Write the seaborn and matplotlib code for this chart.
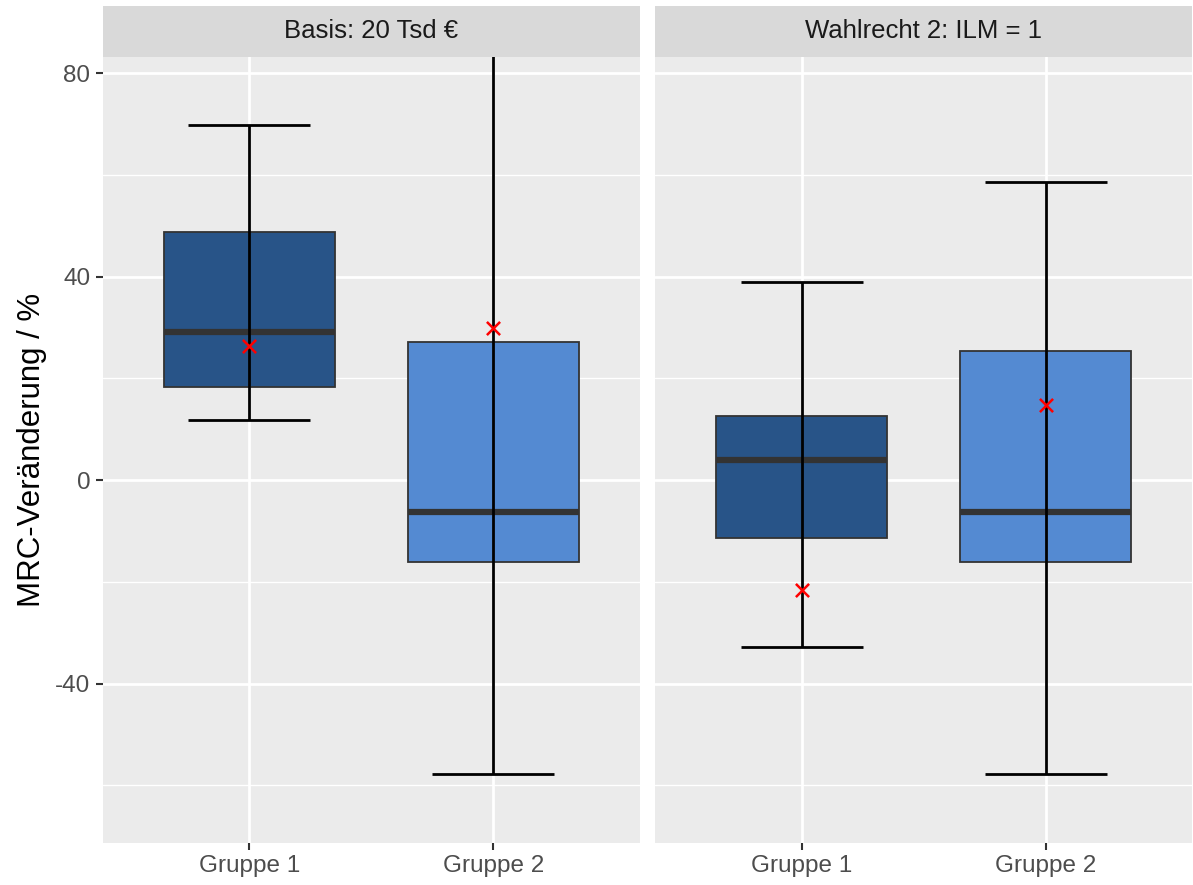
import numpy as np
import pandas as pd
import matplotlib
matplotlib.use("Agg")
import matplotlib.pyplot as plt
from matplotlib.patches import Rectangle
import seaborn as sns

# Panel labels and groups
panels = ["Basis: 20 Tsd €", "Wahlrecht 2: ILM = 1"]
groups = ["Gruppe 1", "Gruppe 2"]

# Five-number summaries per panel and group (min, q1, median, q3, max)
minimum = [[11.9, -57.7], [-32.8, -57.8]]
q1 = [[18.3, -16.1], [-11.3, -16.1]]
median = [[29.2, -6.2], [4.0, -6.2]]
q3 = [[48.7, 27.2], [12.6, 25.3]]
maximum = [[69.9, 92.0], [38.9, 58.7]]
means = [[26.3, 29.9], [-21.6, 14.8]]

y_ticks = [-40, 0, 40, 80]
y_minor = [-60, -20, 20, 60]
fills = ["#285488", "#548AD2"]

# Long table: five values per box reproduce its quartiles exactly
rows = []
for p, pname in enumerate(panels):
    for g, gname in enumerate(groups):
        for v in (minimum[p][g], q1[p][g], median[p][g], q3[p][g], maximum[p][g]):
            rows.append({"panel": pname, "group": gname, "value": v})
df = pd.DataFrame(rows)

mean_rows = [{"panel": pname, "group": gname, "mean": means[p][g]}
             for p, pname in enumerate(panels) for g, gname in enumerate(groups)]
mdf = pd.DataFrame(mean_rows)

sns.set_style("darkgrid")
plt.rcParams["font.family"] = ["Liberation Sans", "DejaVu Sans"]
plt.rcParams["axes.unicode_minus"] = False

g = sns.FacetGrid(df, col="panel", col_order=panels, sharey=True,
                  height=8.85, aspect=0.67)
fig = g.figure
fig.set_size_inches(11.93, 8.85)
fig.set_dpi(100)
fig.patch.set_facecolor("white")


def draw_panel(data, **kws):
    ax = plt.gca()
    pname = data["panel"].iloc[0]
    p = panels.index(pname)
    sns.boxplot(data=data, x="group", y="value", hue="group", order=groups,
                hue_order=groups, palette=fills, saturation=1, legend=False,
                width=0.7, whis=np.inf, linewidth=1.3, linecolor="#333333",
                showcaps=False, whiskerprops={"visible": False},
                medianprops={"color": "#333333", "linewidth": 4.5},
                ax=ax, zorder=2)
    # error bars spanning min..max, drawn on top of the boxes
    for gi in range(len(groups)):
        ax.vlines(gi, minimum[p][gi], maximum[p][gi], color="black",
                  linewidth=2, zorder=4)
        ax.hlines([minimum[p][gi], maximum[p][gi]], gi - 0.25, gi + 0.25,
                  color="black", linewidth=2, zorder=4)
    sub = mdf[mdf["panel"] == pname]
    sns.scatterplot(data=sub, x="group", y="mean", marker="x", color="red",
                    s=90, linewidth=1.8, ax=ax, zorder=5, legend=False)


g.map_dataframe(draw_panel)

fig.subplots_adjust(left=0.0861, right=0.9995, bottom=0.0478, top=0.9356,
                    wspace=0.0288)

for i, ax in enumerate(g.axes.flat):
    ax.set_facecolor("#EBEBEB")
    ax.set_xlim(-0.6, 1.6)
    ax.set_ylim(-71.3, 83.2)
    ax.set_yticks(y_ticks)
    ax.set_yticks(y_minor, minor=True)
    ax.grid(which="major", color="white", linewidth=2.0)
    ax.grid(which="minor", axis="y", color="white", linewidth=1.0)
    ax.set_axisbelow(True)
    for s in ax.spines.values():
        s.set_visible(False)
    ax.set_title("")
    ax.set_xlabel("")
    ax.tick_params(axis="both", which="major", length=5, width=1.5,
                   color="#333333", labelcolor="#4D4D4D", labelsize=17.5,
                   pad=4, bottom=True, left=True)
    ax.tick_params(axis="y", which="minor", length=0)
    ax.set_xticks(range(len(groups)))
    ax.set_xticklabels(groups)
    # facet strip
    ax.add_patch(Rectangle((0, 1.0), 1, 0.0649, transform=ax.transAxes,
                           facecolor="#D9D9D9", edgecolor="none",
                           clip_on=False))
    ax.text(0.5, 1.0325, panels[i], transform=ax.transAxes, ha="center",
            va="center", fontsize=18.5, color="#1A1A1A")
    if i == 0:
        ax.set_ylabel("MRC-Veränderung / %", fontsize=22.5, color="black",
                      labelpad=6)
    else:
        ax.set_ylabel("")
        ax.tick_params(axis="y", which="both", length=0, labelleft=False)

fig.savefig("out.png", dpi=100, facecolor="white")
